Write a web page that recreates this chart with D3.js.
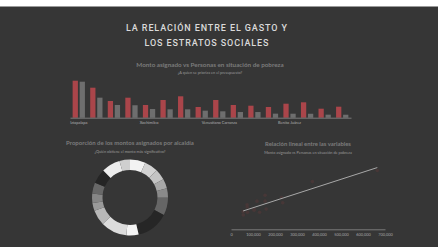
<!DOCTYPE html>
<html><head><meta charset="utf-8">
<script src="https://cdn.jsdelivr.net/npm/d3@7"></script>
<style>
html,body{margin:0;padding:0;background:#fff;}
svg{display:block;font-family:Lato,"Open Sans",sans-serif;}
</style></head>
<body>
<svg id="c" width="438" height="247"></svg>
<script>
const alcaldias = ["Iztapalapa","Gustavo A. Madero","Álvaro Obregón","Tlalpan","Xochimilco","Coyoacán","Tláhuac","Cuauhtémoc","Venustiano Carranza","Azcapotzalco","Iztacalco","Magdalena Contreras","Benito Juárez","Miguel Hidalgo","Milpa Alta","Cuajimalpa"];
const monto = [3700,3000,1670,2000,1270,1770,2140,1070,1770,1270,1200,1070,1400,1540,900,1100];
const pobreza = [665000,370000,235000,230000,160000,155000,155000,130000,118000,105000,105000,75000,74000,73000,56000,55000];
const etiquetas = ["Iztapalapa","Xochimilco","Venustiano Carranza","Benito Juárez"];
const donutOrden = ["Coyoacán","Miguel Hidalgo","Xochimilco","Cuajimalpa","Cuauhtémoc","Tlalpan","Iztapalapa","Benito Juárez","Gustavo A. Madero","Venustiano Carranza","Milpa Alta","Magdalena Contreras","Azcapotzalco","Álvaro Obregón","Tláhuac","Iztacalco"];
const donutGrises = ["#f2f2f2","#d2d2d2","#c4c4c4","#a8a8a8","#8a8a8a","#666666","#262626","#f4f4f4","#dcdcdc","#b8b8b8","#9a9a9a","#868686","#686868","#252525","#ededed","#cfcfcf"];
const xTicks = [0,100000,200000,300000,400000,500000,600000,700000];

const svg = d3.select("#c");
svg.append("rect").attr("width",438).attr("height",247).attr("fill","#363636");
svg.append("rect").attr("width",438).attr("height",6).attr("fill","#ffffff");
svg.append("line").attr("x1",0).attr("x2",438).attr("y1",6.5).attr("y2",6.5).attr("stroke","#9a9a9a").attr("stroke-width",1);

// Main title
const mt = svg.append("g").attr("fill","#dadada").attr("font-family","Roboto, sans-serif").attr("font-weight",500).attr("font-size",9).attr("text-anchor","middle");
mt.append("text").attr("x",206.5).attr("y",31.3).attr("textLength",161).attr("lengthAdjust","spacing").text("LA RELACIÓN ENTRE EL GASTO Y");
mt.append("text").attr("x",206.5).attr("y",45.8).attr("textLength",124).attr("lengthAdjust","spacing").text("LOS ESTRATOS SOCIALES");

function titulo(x,y,t,sub,fs,ss){
  svg.append("text").attr("x",x).attr("y",y).attr("text-anchor","middle").attr("font-weight",700).attr("font-size",fs).attr("fill","#7c7c7c").text(t);
  svg.append("text").attr("x",x).attr("y",y+7.2).attr("text-anchor","middle").attr("font-size",ss).attr("fill","#9a9a9a").text(sub);
}
titulo(210,67,"Monto asignado vs Personas en situación de pobreza","¿A quien se prioriza en el presupuesto?",6.3,3.8);
titulo(130,145.3,"Proporción de los montos asignados por alcaldía","¿Quién obtiene el monto más significativo?",6,3.8);
titulo(308,146.3,"Relación lineal entre las variables","Monto asignado vs Personas en situación de pobreza",5.9,3.8);

// Bar chart
const base = 117.7;
const x0 = d3.scaleBand().domain(alcaldias).range([70,351]).paddingInner(0.3).paddingOuter(0.15);
const x1 = d3.scaleBand().domain(["monto","pobreza"]).range([0,x0.bandwidth()]).paddingInner(0.25);
const yM = d3.scaleLinear().domain([0,3700]).range([base,80.7]);
const yP = d3.scaleLinear().domain([0,665000]).range([base,81.7]);
const gb = svg.append("g");
alcaldias.forEach((a,i)=>{
  gb.append("rect").attr("x",x0(a)+x1("monto")).attr("width",x1.bandwidth()).attr("y",yM(monto[i])).attr("height",base-yM(monto[i])).attr("fill","#aa454a");
  gb.append("rect").attr("x",x0(a)+x1("pobreza")).attr("width",x1.bandwidth()).attr("y",yP(pobreza[i])).attr("height",base-yP(pobreza[i])).attr("fill","#6e6e6e");
});
const ax = svg.append("g").attr("transform",`translate(0,${base})`).call(d3.axisBottom(x0).tickValues(etiquetas).tickSize(0).tickPadding(3.5));
ax.select(".domain").attr("stroke","#8a8a8a").attr("stroke-width",0.8);
ax.selectAll("text").attr("font-size",3.9).attr("fill","#b0b0b0").attr("font-family","Lato, sans-serif");

// Donut
const pie = d3.pie().sort(null).value(d=>monto[alcaldias.indexOf(d)]);
const arc = d3.arc().innerRadius(27.5).outerRadius(38);
const gd = svg.append("g").attr("transform","translate(130,197.5)");
gd.selectAll("path").data(pie(donutOrden)).join("path").attr("d",arc).attr("fill",(d,i)=>donutGrises[i]);

// Scatter
const base2 = 229.3;
const xs = d3.scaleLinear().domain([0,700000]).range([231,385]);
const ys = d3.scaleLinear().domain([0,4000]).range([base2,165.7]);
const gx = svg.append("g").attr("transform",`translate(0,${base2})`).call(d3.axisBottom(xs).tickValues(xTicks).tickFormat(d3.format(",")).tickSize(0).tickPadding(3.5));
gx.select(".domain").attr("stroke","#8a8a8a").attr("stroke-width",0.8);
gx.selectAll("text").attr("font-size",3.9).attr("fill","#a8a8a8").attr("font-family","Lato, sans-serif");
svg.append("g").selectAll("circle").data(alcaldias).join("circle")
  .attr("cx",(d,i)=>xs(pobreza[i])).attr("cy",(d,i)=>ys(monto[i])).attr("r",1.8).attr("fill","#473737");
const mx = d3.mean(pobreza), my = d3.mean(monto);
const b = d3.sum(pobreza,(p,i)=>(p-mx)*(monto[i]-my))/d3.sum(pobreza,p=>(p-mx)*(p-mx));
const a0 = my - b*mx;
const ext = d3.extent(pobreza);
svg.append("line").attr("x1",xs(ext[0])).attr("x2",xs(ext[1])).attr("y1",ys(a0+b*ext[0])).attr("y2",ys(a0+b*ext[1])).attr("stroke","#a8a8a8").attr("stroke-width",1);
</script>
</body></html>
